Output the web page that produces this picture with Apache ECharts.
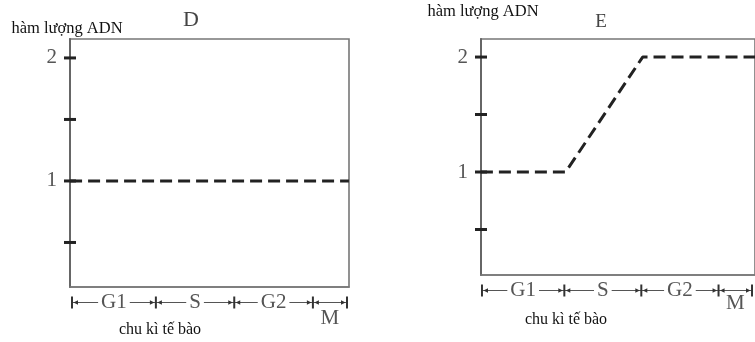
<!DOCTYPE html>
<html><head><meta charset="utf-8">
<script src="https://cdn.jsdelivr.net/npm/echarts@6/dist/echarts.min.js"></script>
<style>html,body{margin:0;padding:0;background:#fff}#c{width:755px;height:342px}</style>
</head><body><div id="c"></div>
<script>
// ---- data ----
const phaseNames = ['G1', 'S', 'G2', 'M'];
const phaseBounds = [0, 3.05, 5.9, 8.76, 10];
const dTime = [-0.07, 10.07];
const dDNA = [1, 1];
const eTime = [-0.04, 3.1, 5.95, 10.11];
const eDNA = [1, 1, 2, 2];
const tickValues = [0.5, 1, 1.5, 2];
const labelValues = [1, 2];
const yTitle = 'hàm lượng ADN';
const xTitle = 'chu kì tế bào';
const panelTitles = ['D', 'E'];

// ---- layout ----
const SERIF = '"Liberation Serif", "DejaVu Serif", serif';
const panels = [
  { grid: { left: 70, top: 39, width: 279, height: 248 }, xMin: -0.0727, xMax: 10.0727, yMin: 0.138, yMax: 2.154, nameGap: 2, namePad: [0, 6, 0, 0], rowOff: 15.5, mOff: 16,
    time: dTime, dna: dDNA, title: { x: 191, y: 20.5, size: 22 }, xName: { x: 160, y: 330 } },
  { grid: { left: 481, top: 39, width: 278, height: 236 }, xMin: -0.036, xMax: 10.11, yMin: 0.104, yMax: 2.157, nameGap: 19, namePad: [0, 0, 0, 4], rowOff: 15.5, mOff: 13,
    time: eTime, dna: eDNA, title: { x: 601, y: 22.5, size: 19 }, xName: { x: 566, y: 320 } }
];

function makePhaseRender(p) {
  return function (params, api) {
    const idx = params.dataIndex;
    const a = api.coord([api.value(0), p.yMin]);
    const b = api.coord([api.value(1), p.yMin]);
    const y = a[1] + p.rowOff;
    const x0 = a[0], x1 = b[0];
    const last = idx === phaseNames.length - 1;
    const children = [
      { type: 'line', shape: { x1: x0, y1: y, x2: x1, y2: y }, style: { stroke: '#555', lineWidth: 1.2 } },
      { type: 'line', shape: { x1: x0, y1: y - 6, x2: x0, y2: y + 6 }, style: { stroke: '#333', lineWidth: 2 } },
      { type: 'polygon', shape: { points: [[x0 + 1.5, y], [x0 + 6, y - 2.2], [x0 + 6, y + 2.2]] }, style: { fill: '#333' } },
      { type: 'polygon', shape: { points: [[x1 - 1.5, y], [x1 - 6, y - 2.2], [x1 - 6, y + 2.2]] }, style: { fill: '#333' } },
      { type: 'text', x: (x0 + x1) / 2, y: last ? y + p.mOff : y,
        style: { text: phaseNames[idx], font: '21px ' + SERIF, fill: '#555', align: 'center', verticalAlign: 'middle',
                 backgroundColor: last ? 'transparent' : '#fff', padding: [0, 3] } }
    ];
    if (last) children.push({ type: 'line', shape: { x1: x1, y1: y - 6, x2: x1, y2: y + 6 }, style: { stroke: '#333', lineWidth: 2 } });
    return { type: 'group', children: children };
  };
}

// tick marks that cross the y-axis line (half outside, half inside)
function makeTickRender(p) {
  return function (params, api) {
    const c = api.coord([p.xMin, api.value(0)]);
    return { type: 'line', shape: { x1: c[0] - 6, y1: c[1], x2: c[0] + 6, y2: c[1] },
             style: { stroke: '#222', lineWidth: 3 } };
  };
}

const grid = [], xAxis = [], yAxis = [], series = [], graphic = [];
panels.forEach((p, i) => {
  grid.push(Object.assign({ show: true, borderColor: '#777', borderWidth: 1.6, backgroundColor: 'transparent' }, p.grid));
  xAxis.push({ type: 'value', gridIndex: i, min: p.xMin, max: p.xMax,
    axisLine: { show: true, onZero: false, lineStyle: { color: '#777', width: 1.6 } }, axisTick: { show: false }, axisLabel: { show: false }, splitLine: { show: false } });
  yAxis.push({ type: 'value', gridIndex: i, min: p.yMin, max: p.yMax, position: 'left',
    name: yTitle, nameLocation: 'end', nameGap: p.nameGap,
    nameTextStyle: { fontFamily: SERIF, fontSize: 16.5, color: '#111', padding: p.namePad },
    axisLine: { show: true, onZero: false, lineStyle: { color: '#666', width: 2 } },
    axisTick: { show: false },
    axisLabel: { show: true, customValues: labelValues, margin: 13, fontFamily: SERIF, fontSize: 21, color: '#555' },
    splitLine: { show: false } });
  series.push({ type: 'line', xAxisIndex: i, yAxisIndex: i, symbol: 'none', silent: true,
    data: p.time.map((t, k) => [t, p.dna[k]]),
    lineStyle: { color: '#222', width: 3, type: [12, 6] } });
  series.push({ type: 'custom', xAxisIndex: i, yAxisIndex: i, silent: true, z: 5,
    data: tickValues.map(v => [v]), encode: { y: 0 }, renderItem: makeTickRender(p) });
  series.push({ type: 'custom', xAxisIndex: i, yAxisIndex: i, silent: true,
    data: phaseNames.map((n, k) => [phaseBounds[k], phaseBounds[k + 1], p.yMin]),
    encode: { x: [0, 1], y: 2 }, renderItem: makePhaseRender(p) });
  graphic.push({ type: 'text', x: p.title.x, y: p.title.y,
    style: { text: panelTitles[i], font: p.title.size + 'px ' + SERIF, fill: '#444', align: 'center', verticalAlign: 'middle' } });
  graphic.push({ type: 'text', x: p.xName.x, y: p.xName.y,
    style: { text: xTitle, font: '16px ' + SERIF, fill: '#111', align: 'center', verticalAlign: 'middle' } });
});

const chart = echarts.init(document.getElementById('c'), null, { renderer: 'canvas' });
chart.setOption({ animation: false, backgroundColor: '#fff', grid, xAxis, yAxis, series, graphic });
</script></body></html>
